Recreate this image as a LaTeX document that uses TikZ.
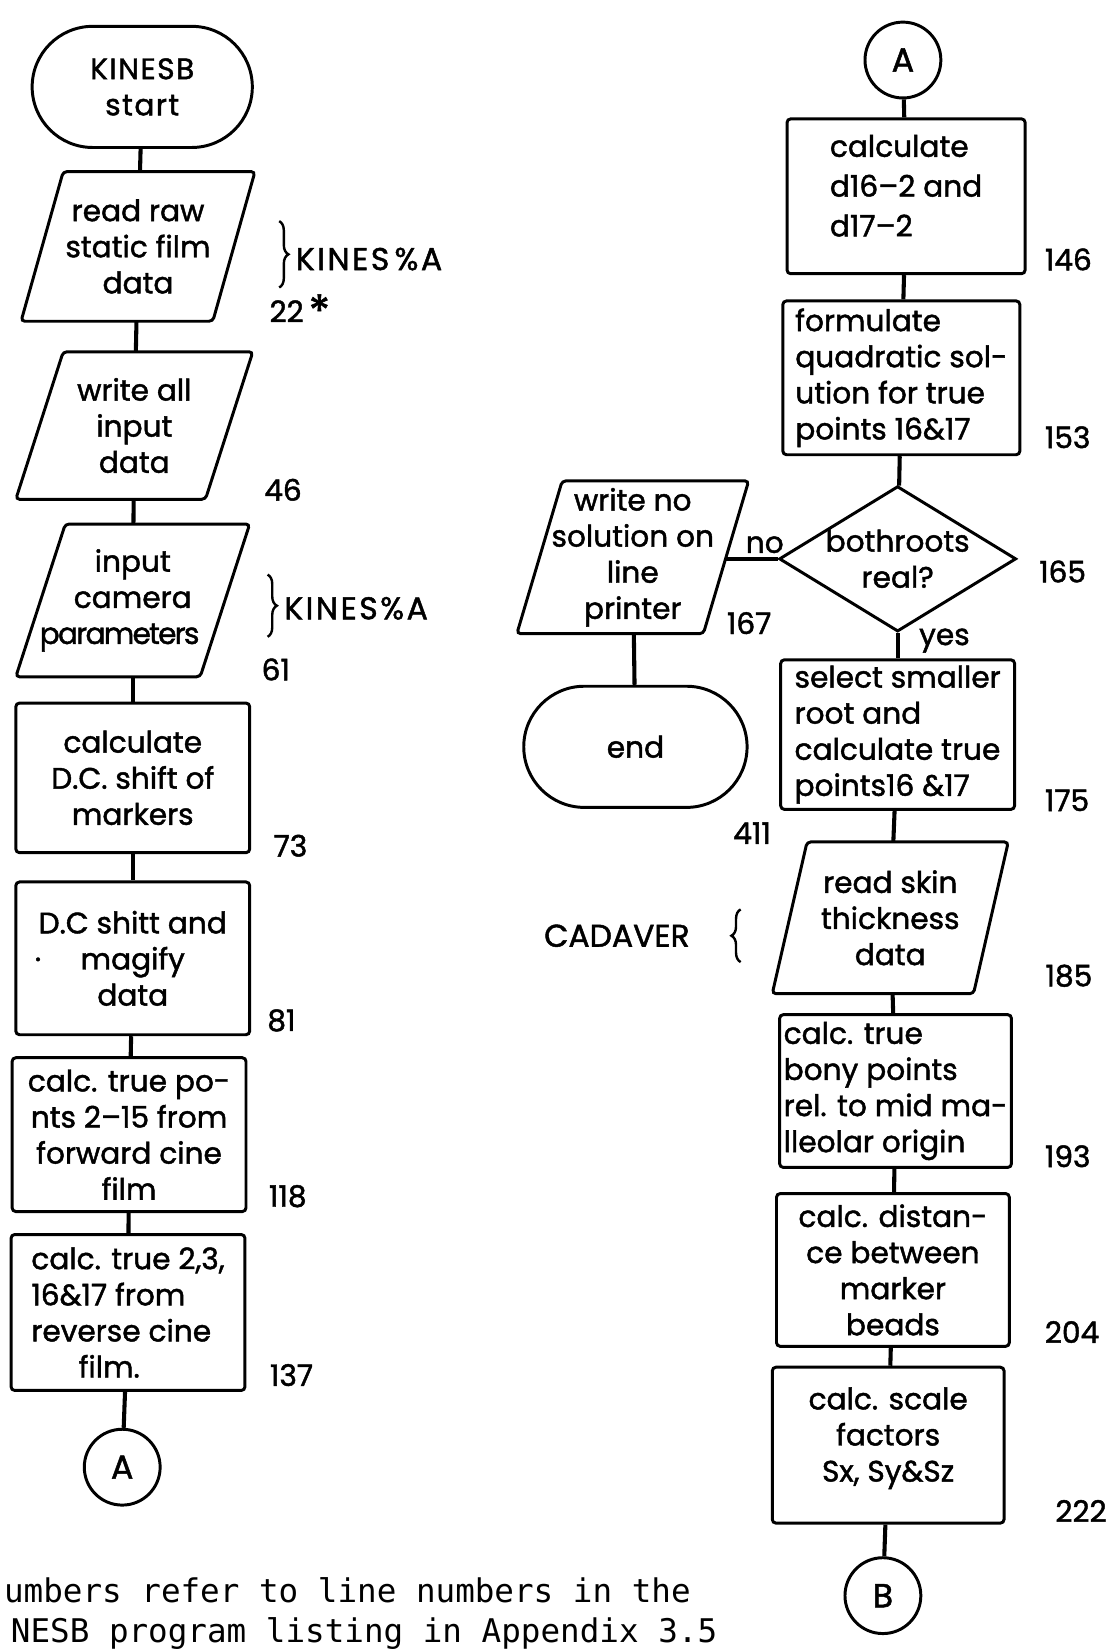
\documentclass[tikz,border=0pt]{standalone}
\usepackage{fontspec}
\setmainfont{Poppins}[FakeBold=1.5]
\newfontfamily\listingfont{DejaVu Sans Mono}
\usetikzlibrary{positioning, shapes.geometric, shapes.misc, decorations.pathreplacing}

% outline of an input/output box: node name, horizontal lean
\newcommand{\leanframe}[2]{%
  \draw[line width=1.6pt, rounded corners=2pt]
    ([xshift=#2]#1.north west) -- (#1.north east)
    -- ([xshift=-#2]#1.south east) -- (#1.south west) -- cycle;}

\begin{document}
\begin{tikzpicture}[
  font=\fontsize{16}{19.5}\selectfont,
  every node/.style={inner sep=2pt},
  proc/.style={
    rectangle, rounded corners=2pt,
    draw, line width=1.6pt,
    align=center,
    minimum width=4.44cm, minimum height=2.9cm
  },
  iobox/.style={
    rectangle, outer sep=0pt,
    align=center,
    minimum width=4.44cm, minimum height=2.84cm
  },
  term/.style={
    rounded rectangle, draw, line width=1.6pt,
    align=center, minimum width=4.32cm, minimum height=2.3cm
  },
  joint/.style={
    circle, draw, line width=1.6pt, minimum size=1.44cm,
    font=\fontsize{18}{20}\selectfont
  },
  decision/.style={
    diamond, draw, line width=1.6pt, inner sep=0pt,
    minimum width=4.5cm, minimum height=2.76cm
  },
  lineno/.style={anchor=west, font=\fontsize{16}{18}\selectfont},
  filename/.style={font=\fontsize{17}{20}\selectfont\addfontfeatures{LetterSpace=8}},
  flow/.style={line width=2.2pt},
  curly/.style={decorate, decoration={brace, amplitude=5pt}, line width=1.3pt}
]
\useasboundingbox (0,0) rectangle (21.12,-31.36);

% main line, left column
\node[term, font=\fontsize{16}{19.5}\selectfont\addfontfeatures{LetterSpace=5}] (start) at (2.70,-1.65) {KINESB\\start};
\node[iobox, below=0.43cm of start, xshift=-0.08cm] (rawdata) {read raw\\static film\\data};
\node[iobox, below=0.58cm of rawdata, xshift=-0.07cm, minimum width=4.5cm, minimum height=2.8cm] (allinput) {write all\\input\\data};
\node[iobox, below=0.47cm of allinput, xshift=-0.03cm, minimum height=2.9cm] (camera) {input\\camera\\{\addfontfeatures{LetterSpace=-6}parameters}\hspace*{0.5cm}};
\node[proc, below=0.47cm of camera, minimum height=2.84cm] (dcshift) {calculate\\D.C. shift of\\markers};
\node[proc, below=0.50cm of dcshift] (magnify) {D.C shitt and\\\llap{·\hspace{0.75cm}}magify\\data};
\node[proc, below=0.38cm of magnify, xshift=-0.07cm, minimum height=2.92cm] (fwdfilm) {calc. true po-\\nts 2–15 from\\forward cine\\film};
\node[proc, below=0.38cm of fwdfilm, xshift=-0.02cm, minimum height=2.96cm, align=left] (revfilm) {calc. true 2,3,\\16\&17 from\\reverse cine\\\hspace*{1.6em}film.};
\node[joint, below=0.68cm of revfilm, xshift=-0.11cm] (outA) {A};

\leanframe{rawdata}{0.8cm}
\leanframe{allinput}{0.9cm}
\leanframe{camera}{0.94cm}

% right column
\node[joint] (inA) at (17.14,-1.14) {A};
\node[proc, below=0.34cm of inA, xshift=0.06cm, minimum width=4.52cm, minimum height=2.94cm, align=left] (dist) {calculate\\[2pt]d16–2 and\\[2pt]d17–2\\[-8pt]\mbox{}};
\node[proc, below=0.46cm of dist, xshift=-0.09cm, minimum width=4.5cm, minimum height=2.92cm, align=left] (quad) {formulate\\quadratic sol-\\ution for true\\points 16\&17};
\node[decision, below=0.54cm of quad, xshift=-0.07cm] (roots) {};
\node[align=center] (rootstext) at (roots) {bothroots\\real?};
\node[proc, below=0.48cm of roots, minimum height=2.84cm, align=left] (smaller) {select smaller\\root and\\calculate true\\points16 \&17};
\node[iobox, below=0.59cm of smaller, xshift=-0.14cm, minimum width=4.48cm, minimum height=2.88cm] (skin) {read skin\\thickness\\data};
\node[proc, below=0.37cm of skin, xshift=0.1cm, minimum width=4.4cm, align=left] (bony) {calc. true\\bony points\\rel. to mid ma-\\lleolar origin};
\node[proc, below=0.44cm of bony, xshift=-0.05cm, minimum width=4.42cm] (beads) {calc. distan-\\ce between\\marker\\beads};
\node[proc, below=0.34cm of beads, xshift=-0.09cm, minimum width=4.4cm, minimum height=2.96cm] (scale) {calc. scale\\factors\\Sx, Sy\&Sz\\[-8pt]\mbox{}};
\node[joint, below=0.6cm of scale, xshift=-0.1cm] (outB) {B};

\leanframe{skin}{0.66cm}

% no-branch
\node[iobox, left=0.55cm of roots, yshift=0.03cm, minimum width=4.4cm, minimum height=2.9cm] (nosol) {write no\\solution on\\line\\printer};
\node[term, below=0.97cm of nosol, xshift=0.05cm, minimum width=4.38cm] (stop) {end};

\leanframe{nosol}{0.86cm}

% connectors
\draw[flow] (start) -- (rawdata);
\draw[flow] (rawdata) -- (allinput);
\draw[flow] (allinput) -- (camera);
\draw[flow] (camera) -- (dcshift);
\draw[flow] (dcshift) -- (magnify);
\draw[flow] (magnify) -- (fwdfilm);
\draw[flow] (fwdfilm) -- (revfilm);
\draw[flow] (revfilm) -- (outA);
\draw[flow] (inA) -- (dist);
\draw[flow] (dist) -- (quad);
\draw[flow] (quad) -- (roots);
\draw[flow] (roots) -- node[right, pos=0.3, xshift=0.3cm] {yes} (smaller);
\draw[flow] (roots.west) -- node[above, pos=0.25] {no} ([xshift=-0.43cm]roots.west -| nosol.east);
\draw[flow] (nosol) -- (stop);
\draw[flow] (smaller) -- (skin);
\draw[flow] (skin) -- (bony);
\draw[flow] (bony) -- (beads);
\draw[flow] (beads) -- (scale);
\draw[flow] (scale) -- (outB);

% line numbers
\node[lineno] (n22) at ([xshift=0.2cm, yshift=0.2cm]rawdata.south east) {22\,\raisebox{-0.3ex}{\fontsize{24}{24}\selectfont *}};
\node[lineno] (n46) at ([xshift=0.14cm, yshift=0.18cm]allinput.south east) {46};
\node[lineno] (n61) at ([xshift=0.15cm, yshift=0.14cm]camera.south east) {61};
\node[lineno] (n73) at ([xshift=0.35cm, yshift=0.16cm]dcshift.south east) {73};
\node[lineno] (n81) at ([xshift=0.23cm, yshift=0.3cm]magnify.south east) {81};
\node[lineno] (n118) at ([xshift=0.33cm, yshift=0.32cm]fwdfilm.south east) {118};
\node[lineno] (n137) at ([xshift=0.37cm, yshift=0.32cm]revfilm.south east) {137};
\node[lineno] (n146) at ([xshift=0.27cm, yshift=0.3cm]dist.south east) {146};
\node[lineno] (n153) at ([xshift=0.37cm, yshift=0.36cm]quad.south east) {153};
\node[lineno] (n165) at ([xshift=0.33cm, yshift=-0.24cm]roots.east) {165};
\node[lineno] (n167) at ([xshift=-0.49cm, yshift=0.2cm]nosol.south east) {167};
\node[lineno] (n411) at ([xshift=1.78cm, yshift=-0.46cm]stop.south) {411};
\node[lineno] (n175) at ([xshift=0.47cm, yshift=0.2cm]smaller.south east) {175};
\node[lineno] (n185) at ([xshift=0.63cm, yshift=0.34cm]skin.south east) {185};
\node[lineno] (n193) at ([xshift=0.53cm, yshift=0.24cm]bony.south east) {193};
\node[lineno] (n204) at ([xshift=0.57cm, yshift=0.3cm]beads.south east) {204};
\node[lineno] (n222) at ([xshift=0.87cm, yshift=0.26cm]scale.south east) {222};

% file names with braces
\node[filename, right=0.7cm of rawdata, yshift=-0.24cm] (kinesA) {KINES\,\%A};
\draw[curly] ([xshift=-0.24cm, yshift=0.72cm]kinesA.west) -- ([xshift=-0.24cm, yshift=-0.54cm]kinesA.west);
\node[filename, right=0.58cm of camera, yshift=-0.15cm] (kinesB) {KINES\%A};
\draw[curly] ([xshift=-0.24cm, yshift=0.64cm]kinesB.west) -- ([xshift=-0.24cm, yshift=-0.54cm]kinesB.west);
\node[font=\fontsize{17}{20}\selectfont, left=1.49cm of skin, yshift=-0.34cm] (cadaver) {CADAVER};
\draw[curly] ([xshift=0.89cm, yshift=-0.5cm]cadaver.east) -- ([xshift=0.89cm, yshift=0.5cm]cadaver.east);

% footnote
\node[anchor=base west, font=\listingfont\fontsize{17.6}{21}\selectfont] (noteA) at (0,-30.42) {umbers refer to line numbers in the};
\node[anchor=base west, font=\listingfont\fontsize{17.6}{21}\selectfont] (noteB) at (0.13,-31.18) {NESB program listing in Appendix 3.5};
\end{tikzpicture}
\end{document}
